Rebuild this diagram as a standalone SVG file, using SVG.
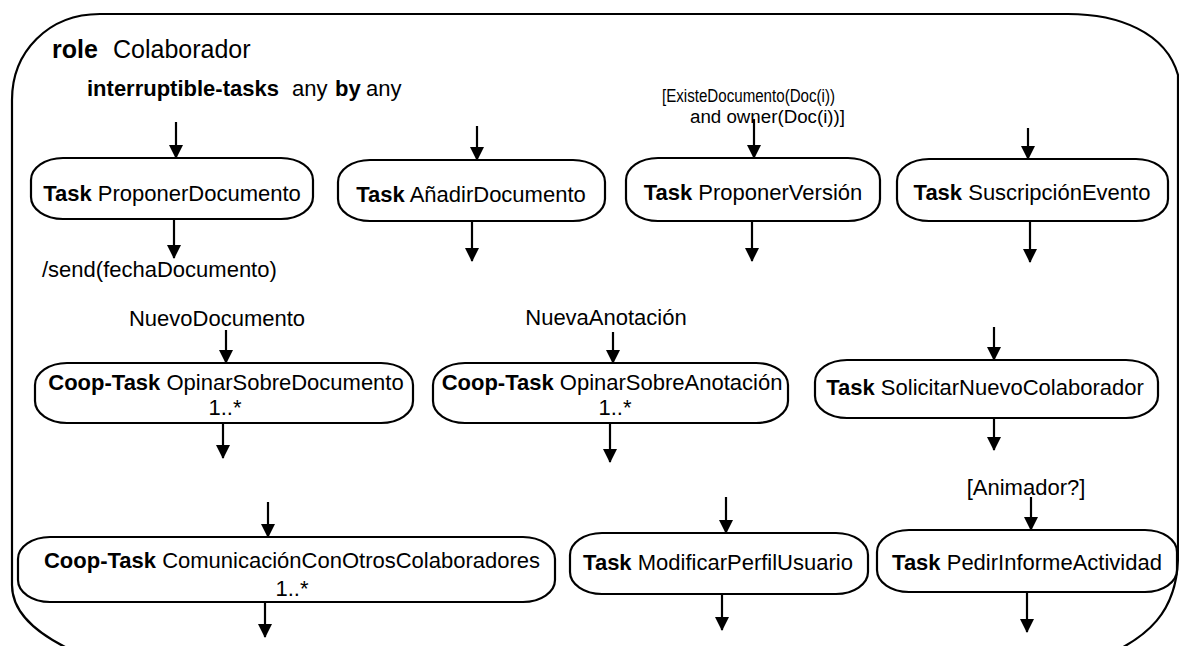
<svg xmlns="http://www.w3.org/2000/svg" width="1179" height="646" viewBox="0 0 1179 646">
  <defs>
    <marker id="arrow" viewBox="0 0 14 14" refX="13" refY="7" markerWidth="14" markerHeight="14" markerUnits="userSpaceOnUse" orient="auto">
      <path d="M0,0 L14,7 L0,14 Z" fill="#000"/>
    </marker>
    <style>
      text { font-family: "Liberation Sans", Arial, sans-serif; fill: #000; }
      .t { font-size: 22px; }
      .b { font-weight: bold; }
      .g { font-size: 18px; }
      .box { fill: #fff; stroke: #000; stroke-width: 2.2; }
      .frame { fill: none; stroke: #000; stroke-width: 2.2; }
      .edge { fill: none; stroke: #000; stroke-width: 2.2; marker-end: url(#arrow); }
    </style>
  </defs>

  <rect width="1179" height="646" fill="#fff"/>

  <!-- role frame (bottom edge runs below the canvas) -->
  <path class="frame" d="M 12 100 C 12 52 48 14 100 14 H 1068 C 1118 14 1166 32 1178 75 V 555 C 1178 610 1150 640 1090 662 H 100 C 40 640 12 615 12 585 Z"/>

  <g id="role-header">
    <text style="font-size:25px" y="58"><tspan class="b" x="52">role</tspan><tspan x="113">Colaborador</tspan></text>
    <text class="t" y="96"><tspan class="b" x="87">interruptible-tasks</tspan><tspan x="292">any</tspan><tspan class="b" x="335">by</tspan><tspan x="366">any</tspan></text>
  </g>

  <!-- row 1 -->
  <g id="task-proponer-documento">
    <rect class="box" x="31" y="158" width="282" height="61" rx="32" ry="22"/>
    <text class="t" x="172" y="201" text-anchor="middle"><tspan class="b">Task</tspan> ProponerDocumento</text>
  </g>
  <g id="task-anadir-documento">
    <rect class="box" x="338" y="160" width="267" height="61" rx="32" ry="22"/>
    <text class="t" x="471" y="202" text-anchor="middle"><tspan class="b">Task</tspan> AñadirDocumento</text>
  </g>
  <g id="task-proponer-version">
    <rect class="box" x="626" y="158" width="254" height="63" rx="32" ry="22"/>
    <text class="t" x="753" y="200" text-anchor="middle"><tspan class="b">Task</tspan> ProponerVersión</text>
  </g>
  <g id="task-suscripcion-evento">
    <rect class="box" x="897" y="159" width="271" height="62" rx="32" ry="22"/>
    <text class="t" x="1032" y="200" text-anchor="middle"><tspan class="b">Task</tspan> SuscripciónEvento</text>
  </g>

  <!-- row 2 -->
  <g id="coop-opinar-documento">
    <rect class="box" x="35" y="363" width="378" height="60" rx="32" ry="22"/>
    <text class="t" x="226" y="390" text-anchor="middle"><tspan class="b">Coop-Task</tspan> OpinarSobreDocumento</text>
    <text class="t" x="225" y="415" text-anchor="middle">1..*</text>
  </g>
  <g id="coop-opinar-anotacion">
    <rect class="box" x="433" y="363" width="355" height="60" rx="32" ry="22"/>
    <text class="t" x="612" y="390" text-anchor="middle"><tspan class="b">Coop-Task</tspan> OpinarSobreAnotación</text>
    <text class="t" x="615" y="415" text-anchor="middle">1..*</text>
  </g>
  <g id="task-solicitar-colaborador">
    <rect class="box" x="815" y="360" width="343" height="58" rx="32" ry="22"/>
    <text class="t" x="985" y="395" text-anchor="middle"><tspan class="b">Task</tspan> SolicitarNuevoColaborador</text>
  </g>

  <!-- row 3 -->
  <g id="coop-comunicacion">
    <rect class="box" x="18" y="537" width="537" height="65" rx="32" ry="22"/>
    <text class="t" x="292" y="568" text-anchor="middle"><tspan class="b">Coop-Task</tspan> ComunicaciónConOtrosColaboradores</text>
    <text class="t" x="292" y="596" text-anchor="middle">1..*</text>
  </g>
  <g id="task-modificar-perfil">
    <rect class="box" x="570" y="533" width="298" height="61" rx="32" ry="22"/>
    <text class="t" x="718" y="570" text-anchor="middle"><tspan class="b">Task</tspan> ModificarPerfilUsuario</text>
  </g>
  <g id="task-pedir-informe">
    <rect class="box" x="877" y="530" width="300" height="62" rx="32" ry="22"/>
    <text class="t" x="1027" y="570" text-anchor="middle"><tspan class="b">Task</tspan> PedirInformeActividad</text>
  </g>

  <!-- transition labels -->
  <g id="labels">
    <text class="g" x="662" y="102" textLength="173" lengthAdjust="spacingAndGlyphs">[ExisteDocumento(Doc(i))</text>
    <text class="g" x="690" y="123" textLength="155" lengthAdjust="spacingAndGlyphs">and  owner(Doc(i))]</text>
    <text class="t" x="42" y="277">/send(fechaDocumento)</text>
    <text class="t" x="217" y="326" text-anchor="middle">NuevoDocumento</text>
    <text class="t" x="606" y="325" text-anchor="middle">NuevaAnotación</text>
    <text class="t" x="1026" y="495" text-anchor="middle">[Animador?]</text>
  </g>

  <!-- connectors -->
  <g id="connectors">
    <line class="edge" x1="176" y1="122" x2="176" y2="158"/>
    <line class="edge" x1="477" y1="126" x2="477" y2="160"/>
    <line class="edge" x1="754" y1="119" x2="754" y2="158"/>
    <line class="edge" x1="1028" y1="128" x2="1028" y2="159"/>

    <line class="edge" x1="174" y1="219" x2="174" y2="258"/>
    <line class="edge" x1="472" y1="221" x2="472" y2="261"/>
    <line class="edge" x1="752" y1="221" x2="752" y2="261"/>
    <line class="edge" x1="1030" y1="221" x2="1030" y2="262"/>

    <line class="edge" x1="226" y1="330" x2="226" y2="363"/>
    <line class="edge" x1="613" y1="332" x2="613" y2="363"/>
    <line class="edge" x1="994" y1="327" x2="994" y2="360"/>

    <line class="edge" x1="223" y1="423" x2="223" y2="458"/>
    <line class="edge" x1="610" y1="423" x2="610" y2="462"/>
    <line class="edge" x1="994" y1="418" x2="994" y2="450"/>

    <line class="edge" x1="268" y1="502" x2="268" y2="537"/>
    <line class="edge" x1="726" y1="497" x2="726" y2="533"/>
    <line class="edge" x1="1031" y1="497" x2="1031" y2="530"/>

    <line class="edge" x1="265" y1="602" x2="265" y2="637"/>
    <line class="edge" x1="722" y1="594" x2="722" y2="630"/>
    <line class="edge" x1="1027" y1="592" x2="1027" y2="632"/>
  </g>
</svg>
